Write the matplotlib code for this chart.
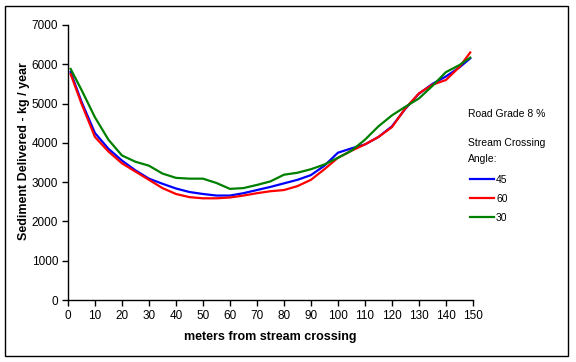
import matplotlib
matplotlib.use("Agg")
import matplotlib.pyplot as plt
from matplotlib.patches import Rectangle

plt.rcParams['font.family'] = ['Liberation Sans', 'DejaVu Sans']

# distance from stream crossing (m)
meters = [1, 5, 10, 15, 20, 25, 30, 35, 40, 45, 50, 55, 60, 65, 70, 75,
          80, 85, 90, 95, 100, 105, 110, 115, 120, 125, 130, 135, 140, 145, 149]

# sediment delivered (kg/year) by stream crossing angle
angle_45 = [5800, 5050, 4250, 3850, 3550, 3300, 3090, 2960, 2840, 2750, 2700,
            2660, 2660, 2720, 2800, 2880, 2970, 3060, 3180, 3420, 3750, 3860,
            3960, 4150, 4420, 4870, 5250, 5500, 5690, 5920, 6150]
angle_60 = [5750, 5000, 4150, 3780, 3480, 3270, 3060, 2850, 2700, 2620, 2590,
            2590, 2610, 2660, 2720, 2770, 2800, 2900, 3060, 3330, 3620, 3800,
            3960, 4150, 4400, 4880, 5260, 5480, 5600, 5930, 6300]
angle_30 = [5880, 5350, 4650, 4080, 3680, 3520, 3420, 3220, 3110, 3090, 3090,
            2980, 2830, 2850, 2930, 3020, 3190, 3240, 3330, 3450, 3620, 3800,
            4080, 4420, 4700, 4920, 5130, 5450, 5800, 5980, 6170]

x_ticks = list(range(0, 151, 10))
y_ticks = list(range(0, 7001, 1000))

fig = plt.figure(figsize=(5.76, 3.62), dpi=100)
ax = fig.add_axes([0.118, 0.171, 0.703, 0.76])

ax.plot(meters, angle_45, color='#0000ff', lw=1.6, label='45')
ax.plot(meters, angle_60, color='#ff0000', lw=1.6, label='60')
ax.plot(meters, angle_30, color='#008000', lw=1.6, label='30')

ax.set_xlim(0, 150)
ax.set_ylim(0, 7000)
ax.set_xticks(x_ticks)
ax.set_yticks(y_ticks)
ax.tick_params(direction='out', length=4, width=1, labelsize=8.5, pad=3)
for side in ['top', 'right']:
    ax.spines[side].set_visible(False)
for side in ['left', 'bottom']:
    ax.spines[side].set_linewidth(1)

ax.set_xlabel('meters from stream crossing', fontsize=9, fontweight='bold', va='center')
ax.set_ylabel('Sediment Delivered - kg / year', fontsize=9, fontweight='bold', va='center')
ax.xaxis.set_label_coords(0.5, -0.1345)
ax.yaxis.set_label_coords(-0.109, 0.54)

# legend header texts
fig.text(468 / 576, 1 - 114 / 362, 'Road Grade 8 %', fontsize=7.5, va='center')
fig.text(468 / 576, 1 - 143 / 362, 'Stream Crossing', fontsize=7.5, va='center')
fig.text(468 / 576, 1 - 159 / 362, 'Angle:', fontsize=7.5, va='center')

fig.legend(loc='upper left', bbox_to_anchor=(470 / 576, 1 - 175 / 362),
           frameon=False, fontsize=7.5, handlelength=2.3, handletextpad=0.2,
           labelspacing=0.85, borderaxespad=0, borderpad=0)

# outer chart border
fig.patches.append(Rectangle((5 / 576, 6 / 362), 563 / 576, 350 / 362,
                             transform=fig.transFigure, fill=False,
                             edgecolor='black', lw=1))

fig.savefig('out.png', dpi=100)
